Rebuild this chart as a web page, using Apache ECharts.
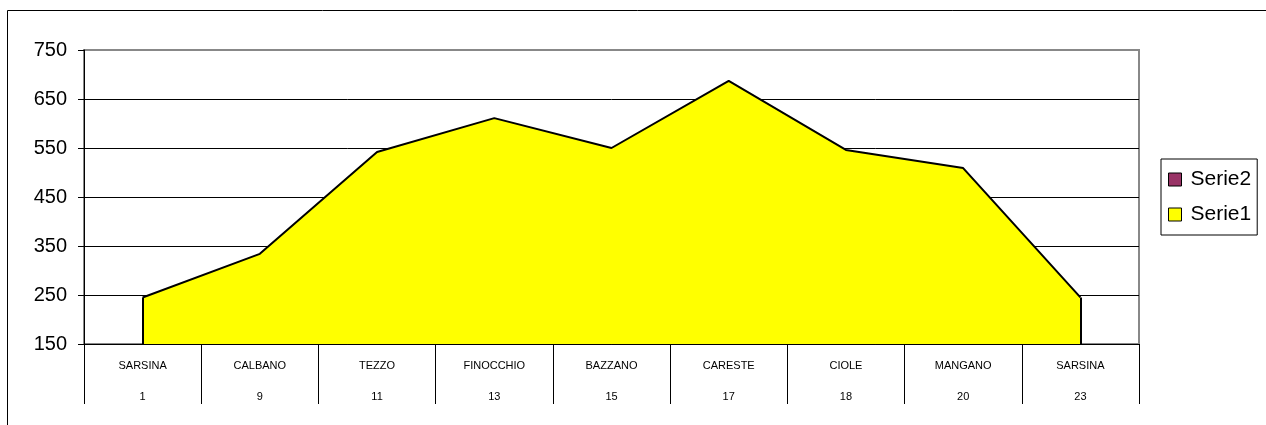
<!DOCTYPE html>
<html>
<head>
<meta charset="utf-8">
<script src="https://cdn.jsdelivr.net/npm/echarts@6/dist/echarts.min.js"></script>
<style>
html,body{margin:0;padding:0;background:#fff;}
#c{width:1266px;height:425px;}
</style>
</head>
<body>
<div id="c"></div>
<script>
var names = ['SARSINA','CALBANO','TEZZO','FINOCCHIO','BAZZANO','CARESTE','CIOLE','MANGANO','SARSINA'];
var numbers = ['1','9','11','13','15','17','18','20','23'];
var serie1 = [245, 334, 542, 611, 550, 687, 546, 509, 245];
var serie2 = [];
var yMin = 150, yMax = 750, yStep = 100;

var categories = names.map(function(n, i){ return n + '\n' + numbers[i]; });
var last = serie1.length - 1;

var chart = echarts.init(document.getElementById('c'));
chart.setOption({
  animation: false,
  textStyle: {fontFamily: 'Liberation Sans, Arial, sans-serif'},
  graphic: [{
    type: 'rect', silent: true, z: -10,
    shape: {x: 7.5, y: 10.5, width: 1400, height: 600},
    style: {fill: 'none', stroke: '#000', lineWidth: 1}
  }],
  grid: {left: 84, right: 127, top: 50, bottom: 81, containLabel: false,
         show: true, borderColor: '#888', borderWidth: 2, backgroundColor: 'transparent'},
  legend: {
    orient: 'vertical', left: 1161, top: 159,
    backgroundColor: '#fff', borderColor: '#000', borderWidth: 1,
    padding: [10, 6, 10, 7],
    itemGap: 14, itemWidth: 13, itemHeight: 13,
    icon: 'rect',
    lineStyle: {width: 0, opacity: 0},
    textStyle: {fontSize: 21, color: '#000', padding: [0, 0, 0, 4],
                fontFamily: 'Liberation Sans, Arial, sans-serif'},
    data: [
      {name: 'Serie2', itemStyle: {color: '#993366', borderColor: '#000', borderWidth: 1}},
      {name: 'Serie1', itemStyle: {color: '#ffff00', borderColor: '#000', borderWidth: 1}}
    ]
  },
  xAxis: {
    type: 'category', data: categories, boundaryGap: true,
    axisLine: {lineStyle: {color: '#000', width: 1}},
    axisTick: {show: true, interval: 0, length: 60, lineStyle: {color: '#000', width: 1}},
    axisLabel: {interval: 0, color: '#000', fontSize: 11, lineHeight: 31, margin: 6,
                fontFamily: 'Liberation Sans, Arial, sans-serif'},
    splitLine: {show: false}
  },
  yAxis: {
    type: 'value', min: yMin, max: yMax, interval: yStep,
    axisLine: {show: true, lineStyle: {color: '#000', width: 1}},
    axisTick: {show: true, length: 6, lineStyle: {color: '#000'}},
    axisLabel: {color: '#000', fontSize: 20, margin: 17,
                fontFamily: 'Liberation Sans, Arial, sans-serif'},
    splitLine: {show: true, lineStyle: {color: ['#000','#000','#000','#000','#000','#000','#888'], width: 1}}
  },
  series: [
    {
      name: 'Serie2', type: 'line', data: serie2,
      itemStyle: {color: '#993366'}, symbol: 'none'
    },
    {
      name: 'Serie1', type: 'line', data: serie1,
      symbol: 'none',
      itemStyle: {color: '#ffff00'},
      lineStyle: {color: '#000', width: 2},
      areaStyle: {color: '#ffff00', opacity: 1},
      markLine: {
        silent: true, symbol: 'none', label: {show: false},
        lineStyle: {color: '#000', width: 2, type: 'solid'},
        data: [
          [{coord: [0, yMin]}, {coord: [0, serie1[0]]}],
          [{coord: [last, yMin]}, {coord: [last, serie1[last]]}]
        ]
      }
    }
  ]
});
</script>
</body>
</html>
